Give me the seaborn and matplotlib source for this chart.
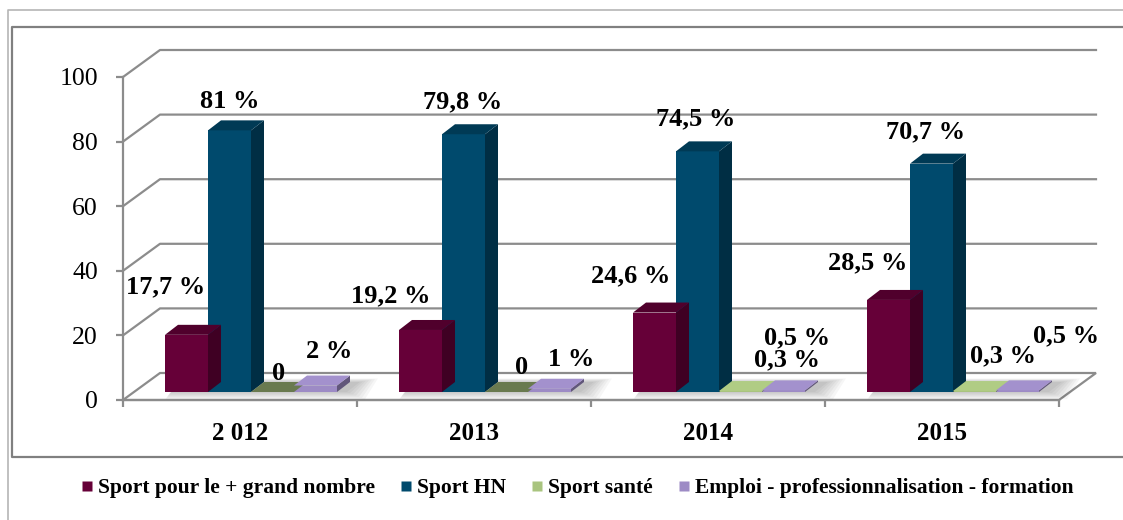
import numpy as np
import pandas as pd
import seaborn as sns
import matplotlib.pyplot as plt
import matplotlib.colors as mcolors
from matplotlib.patches import Polygon
from matplotlib.lines import Line2D

# Data
years = ['2 012', '2013', '2014', '2015']
series = ['Sport pour le + grand nombre', 'Sport HN', 'Sport santé',
          'Emploi - professionnalisation - formation']
grand_nombre = [17.7, 19.2, 24.6, 28.5]
sport_hn = [81, 79.8, 74.5, 70.7]
sport_sante = [0, 0, 0.3, 0.3]
emploi = [2, 1, 0.5, 0.5]
y_ticks = [0, 20, 40, 60, 80, 100]

colors = ['#660038', '#004a6d', '#a9c47f', '#9d8bc5']

# label offsets in px (right, up) from the top of each bar, series by series
label_offsets = [
    [(-21, 48), (-30, 34), (-24, 37), (-21, 37)],
    [(0, 29), (-1, 32), (-2, 33), (-6, 32)],
    [(6, 19), (15, 24), (47, 31), (29, 35)],
    [(14, 34), (22, 29), (14, 53), (49, 55)],
]

df = pd.DataFrame({
    'year': np.tile(years, 4),
    'serie': np.repeat(series, 4),
    'value': grand_nombre + sport_hn + sport_sante + emploi,
})

plt.rcParams['font.family'] = ['Liberation Serif', 'DejaVu Serif']

# geometry (pixels)
W, H = 1123, 520
FX0, FY0 = 123, 400      # front plane origin
CW = 234                 # px per category
PU = 3.23                # px per percent
SH = (11, 8)             # bars sit a bit back from the front plane
WD = (37, 27)            # wall depth
BD = (13, 10)            # bar depth
GRAY = '#8c8c8c'

fig = plt.figure(figsize=(W / 100, H / 100), dpi=100)

# front plane axes: y axis, category labels, walls
ax_f = fig.add_axes([FX0 / W, (H - FY0) / H, 4 * CW / W, 100 * PU / H])
ax_f.set_xlim(-0.5, 3.5)
ax_f.set_ylim(0, 100)
ax_f.patch.set_visible(False)
for s in ['top', 'right']:
    ax_f.spines[s].set_visible(False)
for s in ['left', 'bottom']:
    ax_f.spines[s].set_color(GRAY)
    ax_f.spines[s].set_linewidth(1.6)
ax_f.set_yticks(y_ticks)
ax_f.set_yticklabels([str(v) for v in y_ticks])
ax_f.tick_params(axis='y', length=5, width=1.6, color=GRAY, labelsize=18.5, pad=13)
ax_f.set_xticks(range(4))
ax_f.set_xticklabels(years, fontsize=18, fontweight='bold')
ax_f.set_xticks(np.arange(-0.5, 4, 1), minor=True)
ax_f.tick_params(axis='x', which='major', length=0, pad=16)
ax_f.tick_params(axis='x', which='minor', length=5, width=1.6, color=GRAY)

ddx, ddy = WD[0] / CW, WD[1] / PU
floor = Polygon([(-0.5, 0), (3.5, 0), (3.5 + ddx, ddy), (-0.5 + ddx, ddy)],
                closed=True, facecolor='white', edgecolor=GRAY, lw=1.6,
                clip_on=False, zorder=1)
ax_f.add_patch(floor)
for v in y_ticks[1:]:
    ax_f.plot([-0.5, -0.5 + ddx, 3.5 + ddx], [v, v + ddy, v + ddy],
              color=GRAY, lw=1.6, clip_on=False, zorder=1)

# bar plane axes
ax_b = fig.add_axes([(FX0 + SH[0]) / W, (H - FY0 + SH[1]) / H,
                     4 * CW / W, 100 * PU / H])
ax_b.patch.set_visible(False)
sns.barplot(data=df, x='year', y='value', hue='serie', palette=colors,
            width=0.735, saturation=1, linewidth=0, errorbar=None,
            legend=False, ax=ax_b)
ax_b.set_xlim(-0.5, 3.5)
ax_b.set_ylim(0, 100)
ax_b.set_axis_off()


def shade(c, f):
    r, g, b = mcolors.to_rgb(c)
    return tuple(np.clip((r * f, g * f, b * f), 0, 1))


bdx, bdy = BD[0] / CW, BD[1] / PU
bars = list(ax_b.patches)

# soft shadow on the floor behind each group of bars
for i in range(len(years)):
    grp = [p for p in bars if abs(p.get_x() + p.get_width() / 2 - i) < 0.5]
    gx0 = min(p.get_x() for p in grp)
    gx1 = max(p.get_x() + p.get_width() for p in grp)
    for j in range(7):
        ex = j * 3 / CW
        ey = j * 1.2 / PU
        ax_b.add_patch(Polygon(
            [(gx0 + 6 / CW - ex * 0.3, -ey), (gx1 + 10 / CW + ex, -ey),
             (gx1 + 10 / CW + bdx + ex, bdy + ey * 0.5),
             (gx0 + 6 / CW + bdx - ex * 0.3, bdy + ey * 0.5)],
            closed=True, facecolor='black', alpha=0.035, edgecolor='none',
            clip_on=False, zorder=0.5))

for k, p in enumerate(bars):
    x0, w, h = p.get_x(), p.get_width(), p.get_height()
    c = p.get_facecolor()
    s_idx, y_idx = k // 4, k % 4
    top_f = 0.78 if s_idx < 2 else 1.04
    if h == 0:
        top_f = 0.62
    side = Polygon([(x0 + w, 0), (x0 + w + bdx, bdy), (x0 + w + bdx, h + bdy),
                    (x0 + w, h)], closed=True, facecolor=shade(c, 0.62),
                   edgecolor='none', clip_on=False, zorder=p.get_zorder())
    top = Polygon([(x0, h), (x0 + bdx, h + bdy), (x0 + w + bdx, h + bdy),
                   (x0 + w, h)], closed=True, facecolor=shade(c, top_f),
                  edgecolor='none', clip_on=False, zorder=p.get_zorder())
    ax_b.add_patch(side)
    ax_b.add_patch(top)
    p.set_clip_on(False)

    txt = '0' if h == 0 else f'{h:g}'.replace('.', ',') + ' %'
    dx, dy = label_offsets[s_idx][y_idx]
    ax_b.annotate(txt, (x0 + w / 2, h), xytext=(dx * 0.72, dy * 0.72),
                  textcoords='offset points', ha='center', va='center',
                  fontsize=19, fontweight='bold', annotation_clip=False)

# legend
handles = [Line2D([], [], marker='s', color='none', markerfacecolor=c,
                  markeredgecolor='none', markersize=7.5) for c in colors]
fig.legend(handles, series, loc='center', bbox_to_anchor=(0.514, 1 - 488 / H),
           ncol=4, frameon=False, handlelength=0.55, handletextpad=0.25,
           columnspacing=1.15, prop={'family': 'Liberation Serif',
                                     'weight': 'bold', 'size': 15.5})

# chart frames
def fline(xs, ys, **kw):
    fig.add_artist(Line2D([x / W for x in xs], [1 - y / H for y in ys],
                          transform=fig.transFigure, **kw))


fline([8, 8, W], [H, 10, 10], color='#b5b5b5', lw=1.2)
fline([W, 12, 12, W], [27, 27, 457, 457], color='#808080', lw=1.6)

fig.savefig('out.png', dpi=100)
